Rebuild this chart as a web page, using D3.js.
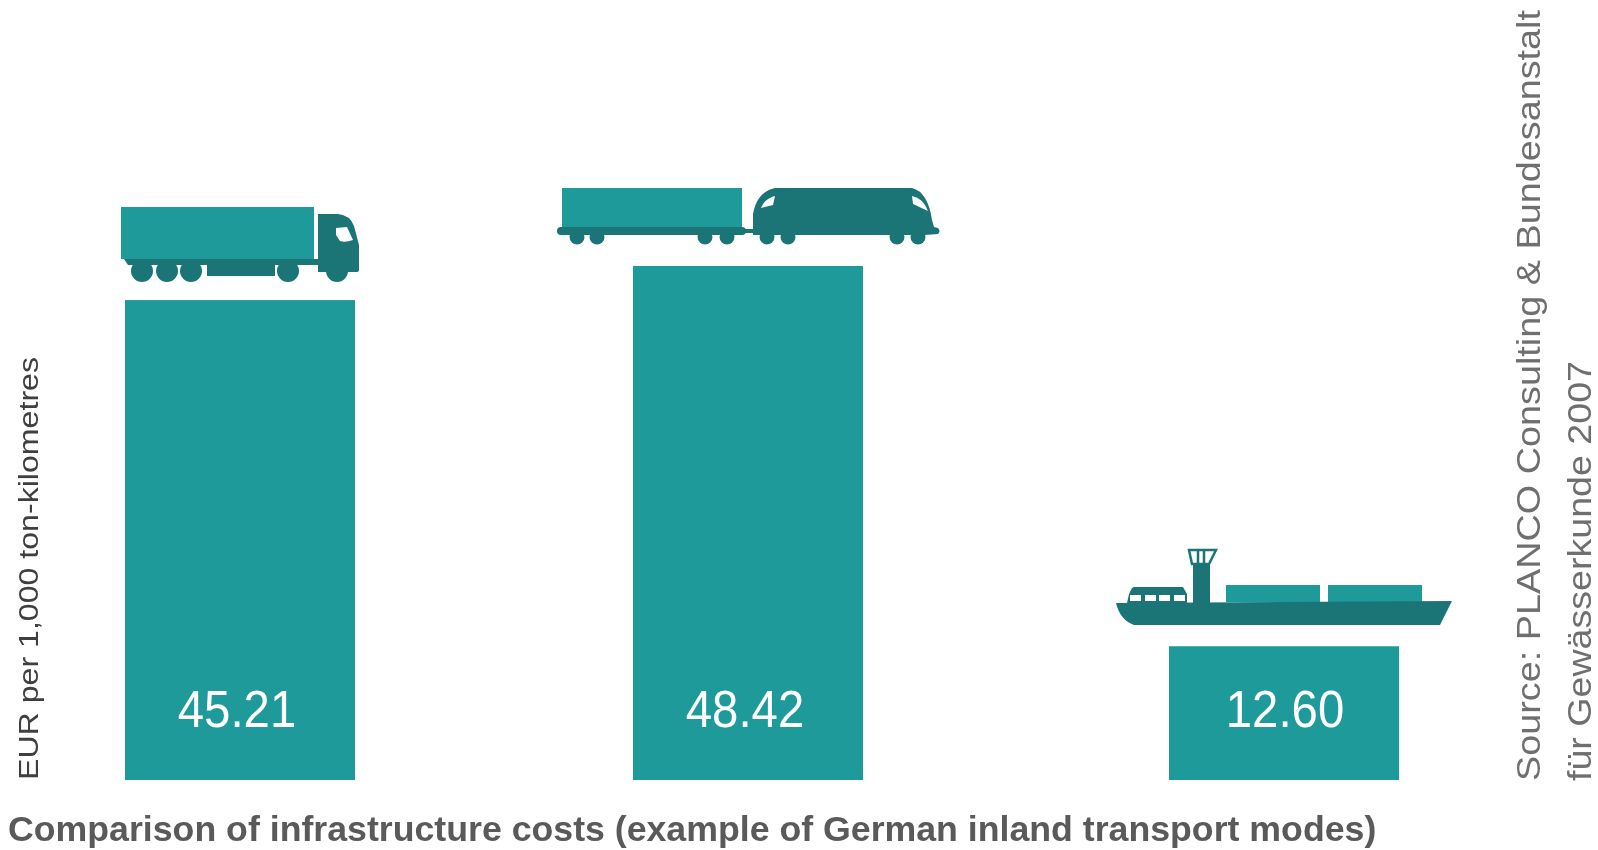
<!DOCTYPE html>
<html>
<head>
<meta charset="utf-8">
<script src="https://d3js.org/d3.v7.min.js"></script>
<style>
  html, body { margin: 0; padding: 0; background: #fff; }
  svg { display: block; font-family: "Liberation Sans", Arial, sans-serif; }
</style>
</head>
<body>
<svg id="chart" width="1598" height="850"></svg>
<script>
var modes = ["Road", "Rail", "Waterway"];
var costs = [45.21, 48.42, 12.60];
var valueLabels = ["45.21", "48.42", "12.60"];
var chartTitle = "Comparison of infrastructure costs (example of German inland transport modes)";
var yTitle = "EUR per 1,000 ton-kilometres";
var sourceLines = ["Source: PLANCO Consulting & Bundesanstalt", "für Gewässerkunde 2007"];

var svg = d3.select("#chart");
var light = "#1f9a9b", dark = "#1b7577", grey = "#5a5a5a";

var x = d3.scaleOrdinal().domain(modes).range([125, 633, 1169]);
var y = d3.scaleLinear().domain([0, 48.42]).range([780, 266]);
var barWidth = 230;

var g = svg.append("g").style("filter", "blur(0.7px)");

g.selectAll(".bar")
  .data(modes)
  .enter().append("rect")
    .attr("class", "bar")
    .attr("x", function(d) { return x(d); })
    .attr("y", function(d, i) { return y(costs[i]); })
    .attr("width", barWidth)
    .attr("height", function(d, i) { return y(0) - y(costs[i]); })
    .attr("fill", light);

// the digits in the picture are narrower than the font, hence the scale
g.selectAll(".value")
  .data(modes)
  .enter().append("text")
    .attr("class", "value")
    .attr("transform", function(d, i) {
      return "translate(" + (x(d) + barWidth / 2 + (i == 2 ? 1 : -3)) + ",727) scale(0.91,1)";
    })
    .attr("text-anchor", "middle")
    .attr("font-size", 52)
    .attr("fill", "#fff")
    .text(function(d, i) { return valueLabels[i]; });

// icons, drawn by hand from the picture
function wheels(parent, xs, cy, r) {
  xs.forEach(function(cx) {
    parent.append("circle").attr("cx", cx).attr("cy", cy).attr("r", r).attr("fill", dark);
  });
}

var truck = g.append("g");
truck.append("rect").attr("x", 121).attr("y", 207).attr("width", 193).attr("height", 52).attr("fill", light);
truck.append("path").attr("fill", dark)
  .attr("d", "M318,214 L338,214 Q350,215 354,226 L359,245 L359,270 Q359,272 356,272 L318,272 Z M124,259 L318,259 L318,265 L128,265 Z");
truck.append("path").attr("fill", "#fff").attr("d", "M336,228 L347,227 L353,240 Q345,243 340,241 L336,235 Z");
truck.append("rect").attr("x", 207).attr("y", 262).attr("width", 68).attr("height", 14).attr("fill", dark);
wheels(truck, [142, 167, 191, 288, 337], 271, 11);

var train = g.append("g");
train.append("rect").attr("x", 562).attr("y", 188).attr("width", 180).attr("height", 40).attr("fill", light);
train.append("path").attr("fill", "none").attr("stroke", dark).attr("stroke-width", 8).attr("stroke-linecap", "round")
  .attr("d", "M561,231 L742,231");
train.append("path").attr("fill", "none").attr("stroke", dark).attr("stroke-width", 4)
  .attr("d", "M742,231 L756,231");
train.append("path").attr("fill", dark)
  .attr("d", "M753,235 L753,214 Q757,192 775,188 L912,188 Q928,192 932,220 L934,227 L938,228 Q941,231 938,234 L925,235 Z");
train.append("path").attr("fill", "#fff").attr("d", "M761,208 Q764,199 775,196 L773,205 Z");
train.append("path").attr("fill", "#fff").attr("d", "M912,196 Q923,198 928,211 L913,204 Z");
wheels(train, [577, 597, 705, 727, 767, 788, 897, 918], 237, 7.5);

var ship = g.append("g");
ship.append("rect").attr("x", 1226).attr("y", 585).attr("width", 94).attr("height", 17).attr("fill", light);
ship.append("rect").attr("x", 1328).attr("y", 585).attr("width", 94).attr("height", 17).attr("fill", light);
ship.append("path").attr("fill", dark)
  .attr("d", "M1116,603 L1452,601 L1440,625 L1134,625 Q1120,620 1116,603 Z");
ship.append("rect").attr("x", 1193).attr("y", 565).attr("width", 17).attr("height", 40).attr("fill", dark);
ship.append("path").attr("fill", "none").attr("stroke", dark).attr("stroke-width", 2.5)
  .attr("d", "M1189,550 L1216,550 L1209,564 L1192,564 Z M1198,550 L1198,564 M1204,550 L1204,564");
ship.append("path").attr("fill", dark)
  .attr("d", "M1132,588 L1134,587 L1183,587 L1187,594 L1187,603 L1127,603 L1129,594 Z");
ship.selectAll(".win").data([1130, 1145, 1159, 1174]).enter().append("rect")
  .attr("x", function(d) { return d; }).attr("y", 595).attr("width", 11).attr("height", 6).attr("fill", "#fff");

g.append("text")
  .attr("x", 8).attr("y", 841)
  .attr("font-size", 35.7).attr("font-weight", "bold").attr("fill", grey)
  .text(chartTitle);

g.append("text")
  .attr("transform", "translate(38,780) rotate(-90)")
  .attr("font-size", 27).attr("fill", "#3f3f3f")
  .attr("textLength", 423).attr("lengthAdjust", "spacingAndGlyphs")
  .text(yTitle);

// same here: the source text is drawn wider than the font
var sourceLengths = [771, 420];
g.selectAll(".source")
  .data(sourceLines)
  .enter().append("text")
    .attr("class", "source")
    .attr("transform", function(d, i) { return "translate(" + (1540 + i * 51) + ",781) rotate(-90)"; })
    .attr("font-size", 34).attr("fill", "#6f6f6f")
    .attr("textLength", function(d, i) { return sourceLengths[i]; })
    .attr("lengthAdjust", "spacingAndGlyphs")
    .text(function(d) { return d; });
</script>
</body>
</html>
